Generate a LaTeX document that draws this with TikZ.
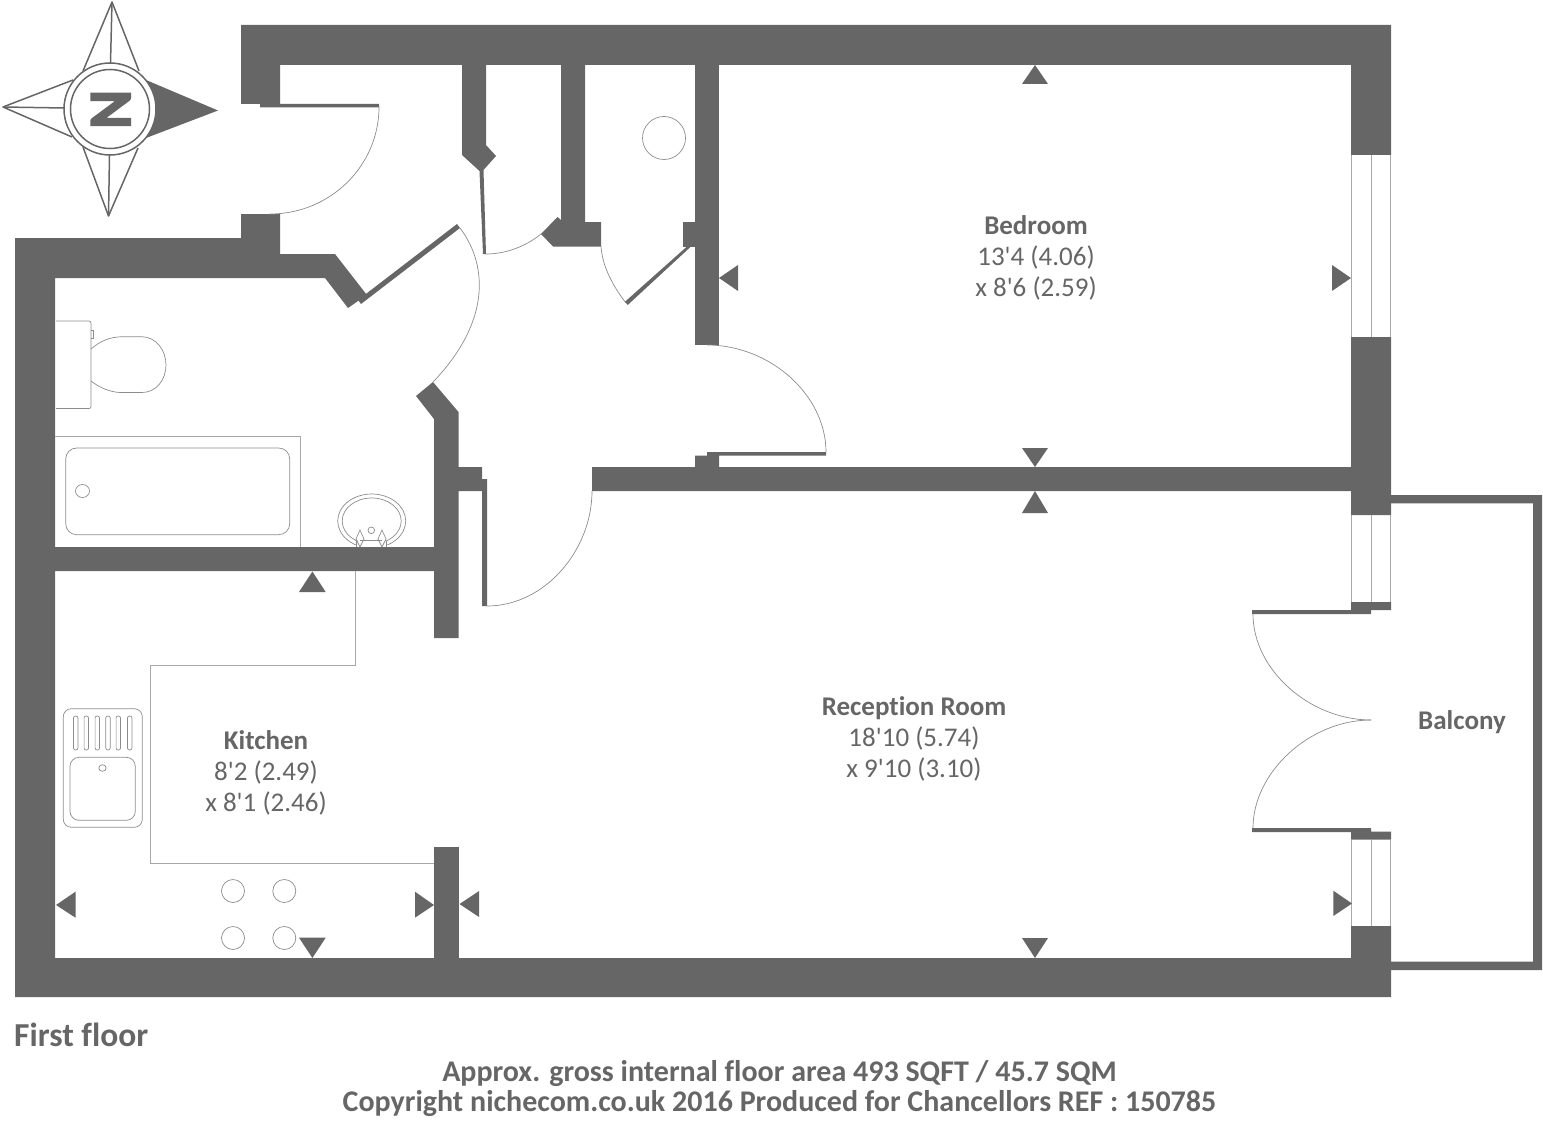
\documentclass[tikz,border=0pt]{standalone}
\usepackage{fontspec}
\usepackage{graphicx}
\setmainfont{Carlito}[Ligatures={TeXOff,NoCommon}]
\newfontfamily\heavyfont{Carlito Bold}[FakeBold=3]
\definecolor{wallc}{HTML}{666666}
\definecolor{linec}{HTML}{A8A8A8}
\definecolor{thinc}{HTML}{8C8C8C}
\tikzset{
  wall/.style={fill=wallc,draw=none},
  fixture/.style={draw=thinc,line width=0.7pt},
  fixedge/.style={draw=linec,line width=1pt},
  swing/.style={draw=thinc,line width=0.7pt},
  marker/.style={fill=wallc,draw=none},
  compassline/.style={draw=wallc,line width=1.5pt,line join=round},
  label/.style={text=wallc,align=center,inner sep=0pt,font=\fontsize{27}{31}\selectfont},
  titlelabel/.style={text=wallc,align=center,inner sep=0pt,font=\fontsize{30}{30}\selectfont\bfseries}
}
\begin{document}
\begin{tikzpicture}[x=1pt,y=-1pt]
\useasboundingbox (0,0) rectangle (1543,1121);
% compass
\draw[compassline] (139,71) -- (112,2) -- (83,71);
\draw[compassline] (112,2) -- (110.5,63);
\draw[compassline] (73,80) -- (3,107) -- (72,137);
\draw[compassline] (3,107) -- (64,108);
\draw[compassline] (83,147) -- (108.5,216) -- (138,148);
\draw[compassline] (108.5,216) -- (109.5,155);
\fill[wallc] (218,110.5) -- (146,80) -- (140,110) -- (146,138) -- cycle;
\draw[wallc,line width=1.5pt,fill=white] (110,109) circle[radius=46];
\draw[wallc,line width=1.5pt,fill=white] (110,109) circle[radius=39.5];
\node[text=wallc,inner sep=0pt,rotate=90,font=\fontsize{60}{60}\heavyfont] (north) at (110.7,109.5) {\scalebox{0.98}[1]{N}};
% walls
\fill[wall] (241,25) -- (1391,25) -- (1391,155) -- (1351,155) -- (1351,65) -- (280,65) -- (280,104) -- (379,104) -- (379,107.5) -- (260,107.5) -- (260,104) -- (241,104) -- cycle;
\fill[wall] (1351,337) -- (1391,337) -- (1391,515) -- (1351,515) -- (1351,491) -- (592,491) -- (592,467) -- (695,467) -- (695,455.5) -- (707,455.5) -- (707,452) -- (826,452) -- (826,455.5) -- (719,455.5) -- (719,467) -- (1351,467) -- cycle;
% outer left and bottom
\fill[wall] (15,238) -- (241,238) -- (241,214) -- (280,214) -- (280,254) -- (335,254) -- (366.5,294.5) -- (358,301) -- (348,308) -- (325,278) -- (55,278) -- (55,958) -- (1351,958) -- (1351,926) -- (1391,926) -- (1391,997) -- (15,997) -- cycle;
\fill[wall] (358,300) -- (457,224) -- (460,228) -- (361,304) -- cycle;
% bathroom / kitchen wall
\fill[wall] (55,547) -- (434,547) -- (434,419) -- (416,396) -- (433,382) -- (458.5,412) -- (458.5,467) -- (482,467) -- (482,479) -- (487,479) -- (487,606) -- (482,606) -- (482,491) -- (458.5,491) -- (458.5,638) -- (434,638) -- (434,571) -- (55,571) -- cycle;
\fill[wall] (434,847) -- (459,847) -- (459,960) -- (434,960) -- cycle;
% closets
\fill[wall] (462,60) -- (486,60) -- (486,145) -- (496,156) -- (483.5,170) -- (486,254) -- (483,254) -- (479.5,171) -- (462,155) -- cycle;
\fill[wall] (561,60) -- (585,60) -- (585,222) -- (601,222) -- (601,246.5) -- (553,246.5) -- (541,234) -- (557.5,217) -- (561,220) -- cycle;
\fill[wall] (695,60) -- (719,60) -- (719,345) -- (695,345) -- cycle;
\fill[wall] (695,222) -- (683,222) -- (683,246.5) -- (695,246.5) -- cycle;
\fill[wall] (687,246.5) -- (691,246.5) -- (627.7,305) -- (625,301.7) -- cycle;
% french door leaves and window blocks
\fill[wall] (1351,602) -- (1391,602) -- (1391,610) -- (1371,610) -- (1371,614) -- (1252,614) -- (1252,610) -- (1351,610) -- cycle;
\fill[wall] (1252,828) -- (1371,828) -- (1371,831.5) -- (1391,831.5) -- (1391,839.5) -- (1351,839.5) -- (1351,832) -- (1252,832) -- cycle;
% balcony
\fill[wall] (1391,495) -- (1542,495) -- (1542,970) -- (1391,970) -- (1391,961.7) -- (1533,961.7) -- (1533,503.3) -- (1391,503.3) -- cycle;
% windows
\foreach \wx in {1351.7,1371,1390.5} {
  \draw[fixedge] (\wx,155) -- (\wx,337);
  \draw[fixedge] (\wx,515) -- (\wx,602);
  \draw[fixedge] (\wx,839.5) -- (\wx,926);
}
% door swings
\draw[swing] (379,107) .. controls (379,166) and (330,214) .. (270,214);
\draw[swing] (460,228) .. controls (490,268) and (488,325) .. (433,382);
\draw[swing] (486,254) .. controls (505,254) and (525,247) .. (541,234);
\draw[swing] (601,246) .. controls (602,265) and (612,285) .. (626,303);
\draw[swing] (487,606) .. controls (545,606) and (592,550) .. (592,491);
\draw[swing] (707,345) .. controls (770,345) and (826,395) .. (826,452);
\draw[swing] (1253,614) .. controls (1253,670) and (1310,720) .. (1371,720);
\draw[swing] (1253,828) .. controls (1253,772) and (1310,720) .. (1371,720);
% closet fixture
\draw[fixture] (664,138) circle[radius=21.5];
% WC
\draw[fixture,rounded corners=2pt] (56,321) -- (91,321) -- (91,408.5) -- (56,408.5);
\draw[fixture] (91,330) -- (93,330) -- (93,338) -- (91,338);
\draw[fixture] (91,349) .. controls (100,341) and (110,337) .. (122,336.7) -- (142,336.7) .. controls (156,337) and (166,350) .. (166,365) .. controls (166,380) and (156,392.5) .. (142,392.5) -- (120,392.5) .. controls (110,392) and (100,388) .. (91,381);
% bath
\draw[fixedge] (55,436) -- (300,436) -- (300,547);
\draw[fixture,rounded corners=11pt] (65.7,448) rectangle (289.7,534.7);
\draw[fixture] (82.5,491) ellipse[x radius=7,y radius=6.5];
% basin
\begin{scope}
\clip (330,490) rectangle (412,544);
\draw[fixture] (371.7,521) ellipse[x radius=34,y radius=27];
\end{scope}
\begin{scope}
\clip (330,490) rectangle (412,540);
\draw[fixture] (371.7,521) ellipse[x radius=29.5,y radius=23];
\end{scope}
\draw[fixture] (360,540) -- (382,540);
\draw[fixture] (356.7,541) -- (356.7,547) (386.7,541) -- (386.7,547);
\draw[fixture] (360,530) -- (364,539) -- (360,547) -- (356,539) -- cycle;
\draw[fixture] (382,530) -- (386,539) -- (382,547) -- (378,539) -- cycle;
\draw[fixture] (371.3,530.3) circle[radius=3.3];
% kitchen counter
\draw[fixedge] (355.5,571) -- (355.5,665) -- (150,665) -- (150,863) -- (434,863);
% sink
\draw[fixture,rounded corners=8pt] (63.3,708.7) rectangle (142.3,827.3);
\draw[fixture,rounded corners=9pt] (70,757.3) rectangle (135.3,820.3);
\draw[fixture] (102.5,768) ellipse[x radius=3.7,y radius=3.3];
\foreach \sx in {75.7,86.3,97.3,108,118.3,129.7} {
  \draw[fixture,rounded corners=2pt] (\sx-2.2,716) rectangle (\sx+2.2,750);
}
% hob
\foreach \hx in {233,284.3} \foreach \hy in {891,938} {
  \draw[fixture] (\hx,\hy) circle[radius=11.5];
}
% dimension markers
\fill[marker] (1035,65) -- (1048,84) -- (1022,84) -- cycle;
\fill[marker] (1035,467) -- (1048,448) -- (1022,448) -- cycle;
\fill[marker] (719,278) -- (738,265) -- (738,291) -- cycle;
\fill[marker] (1351,278) -- (1332,265) -- (1332,291) -- cycle;
\fill[marker] (1035,491) -- (1048,513) -- (1022,513) -- cycle;
\fill[marker] (1035,958) -- (1048,938) -- (1022,938) -- cycle;
\fill[marker] (459.5,904) -- (479,891) -- (479,917) -- cycle;
\fill[marker] (1352,903.5) -- (1333.3,890.7) -- (1333.3,916) -- cycle;
\fill[marker] (312.4,571.5) -- (325.7,592) -- (299,592) -- cycle;
\fill[marker] (312.4,958) -- (325.7,937.7) -- (299,937.7) -- cycle;
\fill[marker] (56,905) -- (75.5,891.7) -- (75.5,917.7) -- cycle;
\fill[marker] (434,905) -- (415,891.7) -- (415,917.7) -- cycle;
% labels
\node[label] (bedroom) at (1036,258) {\textbf{Bedroom}\\13'4 (4.06)\\x 8'6 (2.59)};
\node[label] (reception) at (914,739) {\textbf{Reception Room}\\18'10 (5.74)\\x 9'10 (3.10)};
\node[label] (kitchen) at (266,772.5) {\textbf{Kitchen}\\8'2 (2.49)\\x 8'1 (2.46)};
\node[label] (balcony) at (1462,722) {\textbf{Balcony}};
\node[text=wallc,inner sep=0pt,anchor=west,font=\fontsize{33.5}{34}\selectfont\bfseries] (floor) at (14,1035) {First floor};
\node[titlelabel] (credit) at (779.5,1088.5) {Approx. gross internal floor area 493 SQFT / 45.7 SQM\\Copyright nichecom.co.uk 2016 Produced for Chancellors REF : 150785};
\end{tikzpicture}
\end{document}
